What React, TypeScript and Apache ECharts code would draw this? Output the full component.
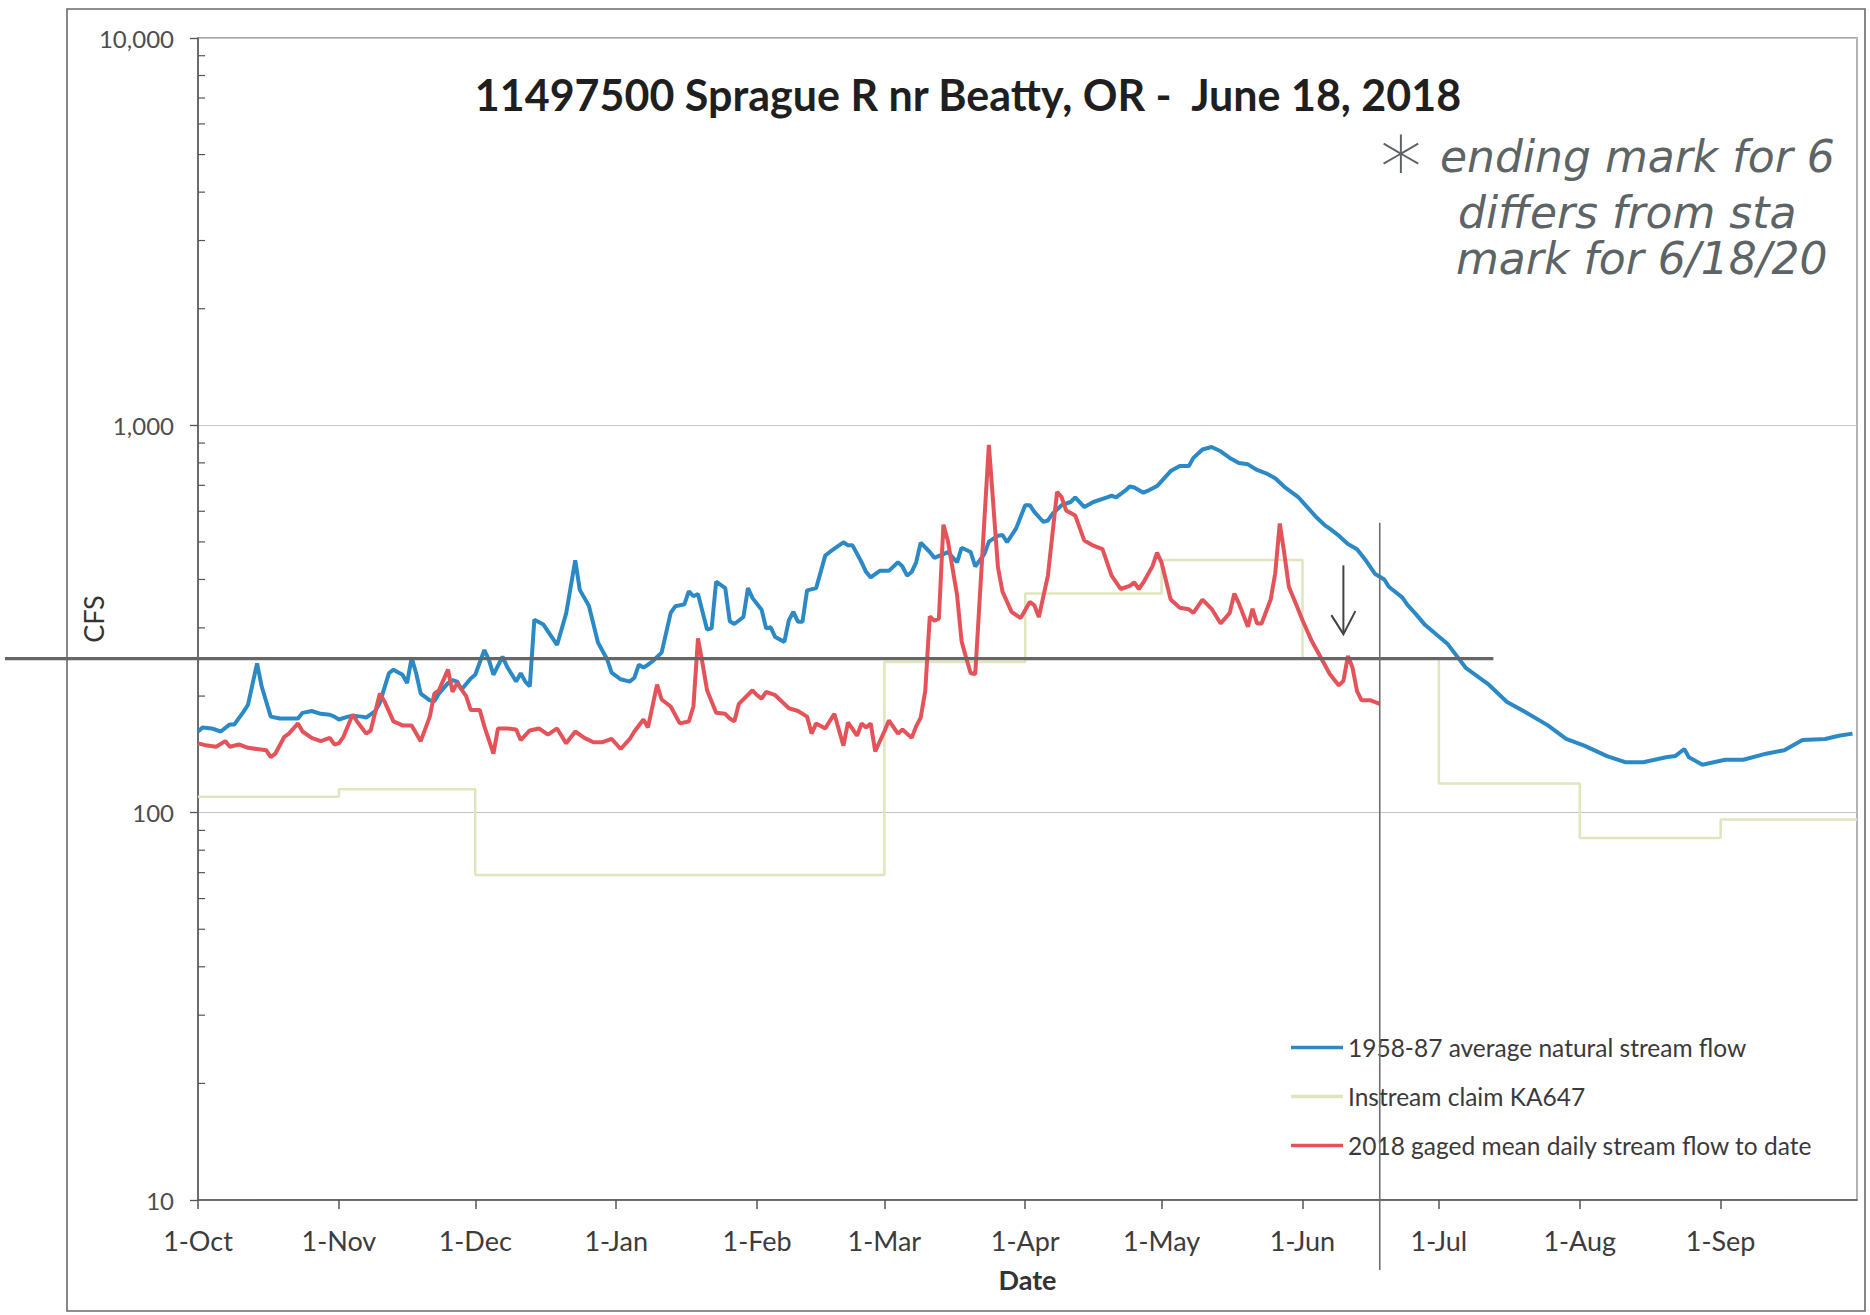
import React, { useEffect, useRef } from "react";
import * as echarts from "echarts";

// ---------- axis categories: every day of water year 2018 (1-Oct-2017 .. 1-Oct-2018) ----------
const MONTH_NAMES = ["Jan", "Feb", "Mar", "Apr", "May", "Jun", "Jul", "Aug", "Sep", "Oct", "Nov", "Dec"];
const START_UTC = Date.UTC(2017, 9, 1);
const DAY_COUNT = 366;
const dayCategories: string[] = Array.from({ length: DAY_COUNT }, (_, i) => {
  const d = new Date(START_UTC + i * 86400000);
  return `${d.getUTCDate()}-${MONTH_NAMES[d.getUTCMonth()]}`;
});

// ---------- y axis ----------
const Y_MIN = 10;
const Y_MAX = 10000;
const minorTickMultiples = [2, 3, 4, 5, 6, 7, 8, 9];
const minorTickDecades = [10, 100, 1000];

// ---------- series (x = days since 1-Oct-2017, y = cfs) ----------
const avgNaturalFlow: [number, number][] = [
  [0, 162], [1, 166], [3, 165], [5, 162], [7, 169], [8, 169], [10, 182], [11, 190], [13, 243], [14, 212],
  [16, 177], [18, 175], [22, 175], [23, 181], [25, 183], [27, 180], [29, 179], [30, 177], [31, 174], [33, 177],
  [34, 178], [36, 177], [37, 176], [39, 183], [40, 192], [42, 229], [43, 234], [45, 227], [46, 216], [47, 251],
  [48, 229], [49, 203], [51, 195], [52, 194], [53, 203], [55, 216], [56, 220], [57, 218], [58, 208], [60, 222],
  [61, 227], [63, 263], [64, 248], [65, 227], [67, 253], [68, 238], [70, 218], [71, 229], [72, 218], [73, 212],
  [74, 315], [76, 306], [79, 271], [81, 327], [83, 448], [84, 376], [86, 342], [88, 275], [90, 249], [91, 230],
  [93, 221], [95, 218], [96, 223], [97, 241], [98, 237], [99, 241], [100, 246], [102, 259], [104, 328], [105, 341],
  [107, 345], [108, 373], [109, 362], [110, 367], [112, 297], [113, 299], [114, 395], [116, 380], [117, 312], [118, 307],
  [120, 320], [121, 380], [122, 358], [124, 334], [125, 299], [126, 301], [127, 284], [129, 276], [130, 314], [131, 330],
  [132, 311], [133, 311], [134, 375], [136, 380], [138, 461], [139, 471], [142, 499], [143, 490], [144, 490], [146, 443],
  [147, 418], [148, 405], [150, 421], [152, 421], [154, 443], [155, 432], [156, 409], [157, 418], [158, 443], [159, 498],
  [161, 471], [162, 455], [164, 465], [165, 471], [167, 443], [168, 483], [170, 471], [171, 432], [173, 465], [174, 501],
  [176, 519], [177, 521], [178, 499], [180, 542], [182, 622], [183, 622], [184, 598], [186, 563], [187, 568], [188, 591],
  [190, 622], [192, 634], [193, 652], [195, 615], [197, 634], [200, 652], [201, 658], [202, 652], [204, 678], [205, 695],
  [206, 691], [208, 670], [209, 678], [211, 697], [212, 718], [214, 762], [216, 785], [218, 785], [219, 824], [221, 866],
  [223, 879], [225, 857], [227, 824], [229, 799], [231, 793], [233, 767], [235, 752], [237, 730], [239, 694], [242, 654],
  [244, 616], [246, 580], [248, 551], [249, 541], [251, 519], [253, 494], [255, 479], [257, 447], [259, 413], [261, 400],
  [262, 383], [265, 359], [266, 345], [268, 325], [270, 305], [275, 272], [279, 236], [284, 214], [288, 193], [292, 182],
  [297, 168], [301, 155], [305, 149], [310, 140], [314, 135], [318, 135], [323, 139], [325, 140], [327, 146], [328, 139],
  [331, 133], [336, 137], [340, 137], [345, 142], [349, 145], [353, 154], [358, 155], [361, 158], [364, 160],
];

const gagedFlow2018: [number, number][] = [
  [0, 151], [2, 149], [4, 148], [6, 153], [7, 148], [9, 150], [11, 147], [13, 146], [15, 145], [16, 139],
  [17, 142], [19, 157], [20, 160], [22, 170], [23, 162], [25, 156], [27, 153], [29, 156], [30, 150], [31, 151],
  [32, 157], [34, 179], [35, 172], [37, 160], [38, 163], [40, 203], [41, 194], [43, 172], [45, 168], [47, 168],
  [49, 153], [51, 177], [52, 203], [53, 207], [55, 234], [56, 205], [57, 216], [59, 200], [60, 184], [62, 184],
  [63, 167], [65, 142], [66, 165], [68, 165], [70, 164], [71, 154], [73, 163], [75, 165], [77, 159], [79, 165],
  [81, 151], [83, 162], [85, 156], [87, 152], [89, 152], [91, 155], [93, 146], [95, 155], [96, 162], [98, 174],
  [99, 166], [101, 214], [102, 196], [104, 188], [106, 170], [108, 172], [109, 188], [110, 282], [111, 243], [112, 207],
  [114, 181], [116, 180], [117, 175], [118, 172], [119, 191], [122, 207], [123, 201], [124, 197], [125, 205], [127, 201],
  [130, 186], [132, 183], [134, 177], [135, 160], [136, 170], [138, 165], [140, 180], [142, 149], [143, 171], [145, 158],
  [146, 170], [147, 166], [148, 170], [149, 144], [151, 162], [152, 173], [154, 160], [155, 164], [157, 156], [158, 167],
  [159, 176], [160, 206], [161, 321], [162, 313], [163, 317], [164, 554], [165, 502], [167, 365], [168, 277], [169, 251],
  [170, 229], [171, 228], [174, 890], [176, 430], [177, 372], [179, 330], [181, 318], [183, 350], [184, 343], [185, 320],
  [187, 410], [189, 673], [190, 653], [191, 603], [193, 585], [195, 504], [197, 489], [199, 479], [201, 409], [203, 378],
  [205, 385], [206, 393], [207, 378], [208, 393], [210, 433], [211, 469], [212, 442], [214, 355], [216, 338], [218, 335],
  [219, 328], [221, 355], [223, 336], [225, 308], [227, 328], [228, 368], [229, 347], [231, 302], [232, 336], [233, 308],
  [234, 308], [236, 355], [237, 415], [238, 558], [239, 467], [240, 383], [242, 336], [243, 314], [245, 278], [247, 252],
  [249, 228], [251, 213], [252, 219], [253, 254], [254, 237], [255, 206], [256, 195], [258, 195], [260, 191],
];

// step values, each held from its day until the next entry
const instreamClaim: [number, number][] = [
  [0, 110], [31, 115], [61, 69], [151, 245], [182, 368], [212, 449], [243, 250], [273, 119], [304, 86], [335, 96], [365, 96],
];

const SERIES_NAMES = [
  "1958-87 average natural stream flow",
  "Instream claim KA647",
  "2018 gaged mean daily stream flow to date",
];

// hand-drawn annotations on the printout
const HAND_LINE_CFS = 250;
const HAND_LINE_END_DAY = 285;
const MARK_DAY = 260; // 18-Jun
const MARK_TOP_CFS = 560;
const ARROW_DAY = 252;
const ARROW_FROM_CFS = 435;
const ARROW_TO_CFS = 289;
const noteLines = ["ending mark for 6", "differs from sta", "mark for 6/18/20"];

const TITLE = "11497500 Sprague R nr Beatty, OR -  June 18, 2018";

export default function App() {
  const ref = useRef<HTMLDivElement>(null);

  useEffect(() => {
    if (!ref.current) return;
    const chart = echarts.init(ref.current, undefined, { renderer: "svg" });

    const minorTicks: [number, number][] = [];
    minorTickDecades.forEach((dec) => minorTickMultiples.forEach((m) => minorTicks.push([0, m * dec])));

    const isMonthStart = (index: number, value: string) => index < DAY_COUNT - 1 && value.startsWith("1-");

    const option: any = {
      animation: false,
      backgroundColor: "#ffffff",
      grid: {
        left: 198,
        top: 38,
        right: 13,
        bottom: 115,
        containLabel: false,
        show: true,
        borderColor: "#8c8c8c",
        borderWidth: 1.3,
      },
      legend: {
        orient: "vertical",
        left: 1291,
        top: 1035,
        padding: 0,
        icon: "rect",
        itemWidth: 52,
        itemHeight: 3.5,
        itemGap: 24,
        data: SERIES_NAMES,
        textStyle: { fontFamily: "Lato", fontSize: 24.5, color: "#3a3a3a", lineHeight: 24 },
      },
      xAxis: {
        type: "category",
        data: dayCategories,
        boundaryGap: false,
        name: "Date",
        nameLocation: "middle",
        nameGap: 66,
        nameTextStyle: { fontFamily: "Lato", fontWeight: "bold", fontSize: 27, color: "#333" },
        axisLine: { lineStyle: { color: "#555", width: 1.5 } },
        axisTick: { show: true, interval: isMonthStart, length: 9, lineStyle: { color: "#555", width: 1.5 } },
        axisLabel: {
          interval: isMonthStart,
          margin: 27,
          fontFamily: "Lato",
          fontSize: 27,
          color: "#3c3c3c",
        },
        splitLine: { show: false },
      },
      yAxis: {
        type: "log",
        logBase: 10,
        min: Y_MIN,
        max: Y_MAX,
        name: "CFS",
        nameLocation: "middle",
        nameGap: 91,
        nameMoveOverlap: false,
        nameTextStyle: { fontFamily: "Lato", fontSize: 27, color: "#333" },
        axisLine: { show: true, lineStyle: { color: "#555", width: 1.5 } },
        axisTick: { show: true, length: 8, lineStyle: { color: "#555", width: 1.3 } },
        axisLabel: {
          margin: 24,
          fontFamily: "Lato",
          fontSize: 24,
          color: "#4d4d4d",
          formatter: (v: number) => v.toLocaleString("en-US"),
        },
        splitLine: { show: true, lineStyle: { color: "#c4c4c4", width: 1.2 } },
      },
      series: [
        {
          name: SERIES_NAMES[0],
          type: "line",
          data: avgNaturalFlow,
          symbol: "none",
          z: 3,
          lineStyle: { color: "#2b8ac6", width: 4 },
          itemStyle: { color: "#2b8ac6" },
        },
        {
          name: SERIES_NAMES[1],
          type: "line",
          data: instreamClaim,
          step: "end",
          symbol: "none",
          z: 2,
          lineStyle: { color: "#dfe6bd", width: 2.5 },
          itemStyle: { color: "#dfe6bd" },
        },
        {
          name: SERIES_NAMES[2],
          type: "line",
          data: gagedFlow2018,
          symbol: "none",
          z: 4,
          lineStyle: { color: "#e5535a", width: 4 },
          itemStyle: { color: "#e5535a" },
        },
        {
          name: "minor ticks",
          type: "custom",
          data: minorTicks,
          silent: true,
          clip: false,
          z: 5,
          renderItem: (_params: any, api: any) => {
            const p = api.coord([api.value(0), api.value(1)]);
            return {
              type: "line",
              shape: { x1: p[0], y1: p[1], x2: p[0] + 7, y2: p[1] },
              style: { stroke: "#555", lineWidth: 1.2 },
            };
          },
        },
      ],
    };

    chart.setOption(option);

    const px = (axis: "x" | "y", v: number) =>
      axis === "x"
        ? (chart.convertToPixel({ xAxisIndex: 0 }, v) as number)
        : (chart.convertToPixel({ yAxisIndex: 0 }, v) as number);

    const yHand = px("y", HAND_LINE_CFS);
    const xHandEnd = px("x", HAND_LINE_END_DAY);
    const xMark = px("x", MARK_DAY);
    const yMarkTop = px("y", MARK_TOP_CFS);
    const yAxisBottom = px("y", Y_MIN);
    const xArrow = px("x", ARROW_DAY);
    const yArrowFrom = px("y", ARROW_FROM_CFS);
    const yArrowTo = px("y", ARROW_TO_CFS);

    const pencil = "#5c6466";
    const noteStyle = {
      verticalAlign: "middle",
      fontFamily: "DejaVu Sans",
      fontStyle: "italic",
      fontWeight: 200,
      fontSize: 44,
      fill: pencil,
    };
    chart.setOption({
      graphic: [
        // scanned page frame
        {
          type: "rect",
          z: 0,
          silent: true,
          shape: { x: 67, y: 9, width: 1798, height: 1302 },
          style: { fill: "none", stroke: "#6a6a6a", lineWidth: 1.6 },
        },
        {
          type: "text",
          z: 50,
          x: 968,
          y: 94,
          style: {
            text: TITLE,
            align: "center",
            verticalAlign: "middle",
            fontFamily: "Lato",
            fontWeight: "bold",
            fontSize: 43,
            fill: "#1f1f1f",
          },
        },
        // hand-drawn horizontal line
        {
          type: "line",
          z: 60,
          silent: true,
          shape: { x1: 5, y1: yHand, x2: xHandEnd, y2: yHand },
          style: { stroke: "#666", lineWidth: 3.2 },
        },
        // hand-drawn vertical mark at 18-Jun
        {
          type: "line",
          z: 60,
          silent: true,
          shape: { x1: xMark, y1: yMarkTop, x2: xMark, y2: yAxisBottom + 70 },
          style: { stroke: "#707070", lineWidth: 1.6 },
        },
        // arrow
        {
          type: "line",
          z: 60,
          silent: true,
          shape: { x1: xArrow, y1: yArrowFrom, x2: xArrow, y2: yArrowTo },
          style: { stroke: "#444", lineWidth: 2 },
        },
        {
          type: "polyline",
          z: 60,
          silent: true,
          shape: { points: [[xArrow - 12, yArrowTo - 19], [xArrow, yArrowTo], [xArrow + 12, yArrowTo - 23]] },
          style: { stroke: "#444", lineWidth: 2, fill: "none" },
        },
        // handwritten note
        {
          type: "text",
          z: 60,
          x: 1380,
          y: 168,
          style: {
            text: "*",
            verticalAlign: "middle",
            fontFamily: "DejaVu Sans",
            fontWeight: 200,
            fontSize: 84,
            fill: pencil,
          },
        },
        { type: "text", z: 60, x: 1440, y: 156, style: { ...noteStyle, text: noteLines[0] } },
        { type: "text", z: 60, x: 1458, y: 212, style: { ...noteStyle, text: noteLines[1] } },
        { type: "text", z: 60, x: 1456, y: 258, style: { ...noteStyle, text: noteLines[2] } },
      ],
    });

    return () => chart.dispose();
  }, []);

  return (
    <div
      ref={ref}
      style={{ position: "fixed", left: 0, top: 0, width: 1870, height: 1315, background: "#fff" }}
    />
  );
}
